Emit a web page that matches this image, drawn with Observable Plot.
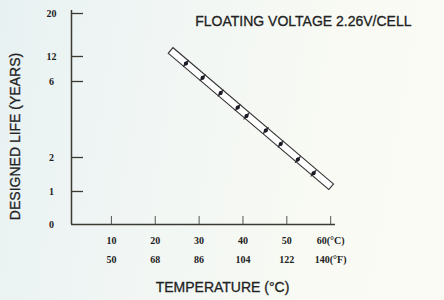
<!DOCTYPE html>
<html>
<head>
<meta charset="utf-8">
<script src="https://cdn.jsdelivr.net/npm/d3@7"></script>
<script src="https://cdn.jsdelivr.net/npm/@observablehq/plot@0.6"></script>
<style>
  html, body { margin: 0; padding: 0; }
  body { width: 444px; height: 300px; overflow: hidden;
         background: linear-gradient(100deg, #e8f1f2 0%, #f1f6f4 35%, #f8faf3 70%, #fafbf4 100%); }
</style>
</head>
<body>
<div id="chart"></div>
<script>
// ---- data ----
const yTicks = [0, 1, 2, 6, 12, 20];
const yTickPixels = [224, 191, 157, 81, 56, 13]; // uneven printed scale
const xTicks = [10, 20, 30, 40, 50, 60];
const celsiusLabels = ["10", "20", "30", "40", "50", "60(°C)"];
const fahrenheitLabels = ["50", "68", "86", "104", "122", "140(°F)"];
const bandTemp = [23.4, 60.2];
const bandLife = [13.2, 1.13];
const pointTemp = [27, 30.8, 34.9, 38.8, 40.8, 45.2, 48.6, 52.5, 56.1];
const pointLife = [10.34, 6.89, 5.39, 4.63, 4.18, 3.42, 2.71, 1.94, 1.54];

const title = "FLOATING VOLTAGE 2.26V/CELL";
const xTitle = "TEMPERATURE (°C)";
const yTitle = "DESIGNED LIFE (YEARS)";

const band = bandTemp.map((t, i) => ({t, life: bandLife[i]}));
const points = pointTemp.map((t, i) => ({t, life: pointLife[i]}));

const ink = "#222";
const axisInk = "#3b3b33";
const sans = "Liberation Sans, Arial, sans-serif";
const serif = "Liberation Serif, Times New Roman, serif";

const W = 444, H = 300, mL = 71, mR = 109, mT = 10, mB = 76;

const chart = Plot.plot({
  width: W, height: H,
  marginLeft: mL, marginRight: mR, marginTop: mT, marginBottom: mB,
  style: {background: "transparent", overflow: "visible"},
  x: {type: "linear", domain: [0.9, 61.1], axis: null},
  y: {type: "linear", domain: yTicks, range: yTickPixels, axis: null},
  marks: [
    // axis lines
    Plot.ruleX([0.9], {stroke: axisInk, strokeWidth: 1.5}),
    Plot.ruleY([0], {stroke: axisInk, strokeWidth: 1.5}),
    // inward ticks
    Plot.tickY(yTicks.filter(d => d > 0), {y: d => d, stroke: axisInk, strokeWidth: 1.3, insetRight: (W - mL - mR) - 12}),
    Plot.tickX(xTicks, {x: d => d, stroke: "#555", strokeWidth: 1, insetTop: (H - mT - mB) - 8}),
    // tick labels
    Plot.text(yTicks, {y: d => d, frameAnchor: "left", dx: -20, text: d => String(d),
      fontFamily: serif, fontWeight: "bold", fontSize: 10, fill: ink, textAnchor: "middle"}),
    Plot.text(xTicks, {x: d => d, frameAnchor: "bottom", dy: 16, text: (d, i) => celsiusLabels[i],
      fontFamily: serif, fontWeight: "bold", fontSize: 10, fill: ink, textAnchor: "middle", lineAnchor: "middle"}),
    Plot.text(xTicks, {x: d => d, frameAnchor: "bottom", dy: 35, text: (d, i) => fahrenheitLabels[i],
      fontFamily: serif, fontWeight: "bold", fontSize: 10, fill: ink, textAnchor: "middle", lineAnchor: "middle"}),
    // band (outlined strip)
    Plot.line(band, {x: "t", y: "life", stroke: "#333", strokeWidth: 8.4, strokeLinecap: "butt"}),
    Plot.line(band, {x: "t", y: "life", stroke: "#ffffff", strokeWidth: 6.2, strokeLinecap: "butt"}),
    // rungs across the band at each point
    Plot.vector(points, {x: "t", y: "life", length: 4.2, rotate: 40, anchor: "start", shape: "spike", r: 1.3,
      stroke: "#2a2a30", fill: "#2a2a30", strokeWidth: 0.6}),
    Plot.vector(points, {x: "t", y: "life", length: 4.2, rotate: 220, anchor: "start", shape: "spike", r: 1.3,
      stroke: "#2a2a30", fill: "#2a2a30", strokeWidth: 0.6}),
    Plot.dot(points, {x: "t", y: "life", r: 2, fill: "#1c1c28", stroke: "none"}),
    // titles
    Plot.text([title], {frameAnchor: "top-right", dx: 76, dy: 11, text: d => d, textAnchor: "end",
      fontFamily: sans, fontSize: 14, fill: ink, stroke: ink, strokeWidth: 0.3, lineAnchor: "middle"}),
    Plot.text([xTitle], {frameAnchor: "bottom", dx: 19, dy: 63, text: d => d, textAnchor: "middle",
      fontFamily: sans, fontSize: 14, fill: ink, stroke: ink, strokeWidth: 0.3, lineAnchor: "middle"}),
    Plot.text([yTitle], {frameAnchor: "left", dx: -56, dy: 19, rotate: -90, text: d => d, textAnchor: "middle",
      fontFamily: sans, fontSize: 14, fill: ink, stroke: ink, strokeWidth: 0.3, lineAnchor: "middle"})
  ]
});
document.getElementById("chart").appendChild(chart);

// give the strip closed ends: shorten the white inner stroke by ~1px at each end
const inner = Array.from(chart.querySelectorAll("g[stroke='#ffffff'] path, path[stroke='#ffffff']"));
inner.forEach(p => {
  const L = p.getTotalLength();
  p.setAttribute("stroke-dasharray", `0 1.1 ${L - 2.2} ${L + 10}`);
});
</script>
</body>
</html>
